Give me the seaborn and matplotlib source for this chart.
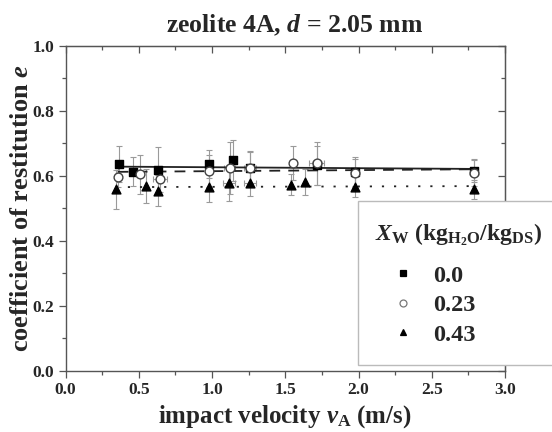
import numpy as np
import pandas as pd
import matplotlib
matplotlib.use("Agg")
import matplotlib.pyplot as plt
from matplotlib.patches import Rectangle
import seaborn as sns

# Coefficient of restitution vs impact velocity, three moisture contents
x_dry = [0.365, 0.463, 0.633, 0.98, 1.145, 1.26, 1.715, 1.976, 2.79]
e_dry = [0.635, 0.612, 0.617, 0.636, 0.647, 0.624, 0.632, 0.612, 0.615]
err_dry = [0.055, 0.045, 0.070, 0.043, 0.063, 0.053, 0.060, 0.045, 0.035]

x_mid = [0.356, 0.51, 0.645, 0.98, 1.12, 1.26, 1.555, 1.715, 1.976, 2.79]
e_mid = [0.595, 0.605, 0.589, 0.615, 0.623, 0.624, 0.640, 0.638, 0.607, 0.607]
err_mid = [0.030, 0.060, 0.040, 0.050, 0.080, 0.050, 0.052, 0.067, 0.043, 0.040]
xerr_mid = [0.0, 0.0, 0.05, 0.0, 0.04, 0.04, 0.0, 0.05, 0.0, 0.0]

x_wet = [0.343, 0.55, 0.633, 0.98, 1.118, 1.26, 1.537, 1.635, 1.976, 2.79]
e_wet = [0.558, 0.568, 0.554, 0.564, 0.577, 0.578, 0.573, 0.580, 0.566, 0.558]
err_wet = [0.060, 0.052, 0.047, 0.044, 0.055, 0.040, 0.033, 0.040, 0.030, 0.030]
xerr_wet = [0.0, 0.0, 0.0, 0.0, 0.04, 0.04, 0.0, 0.0, 0.0, 0.0]

# Linear fits e = a + b * v
fit_intercept = [0.629, 0.6108, 0.5646]
fit_slope = [-0.00287, 0.00328, 0.00123]

labels = ["0.0", "0.23", "0.43"]

sns.set_style("ticks")
plt.rcParams["font.family"] = ["Liberation Serif", "DejaVu Serif"]
plt.rcParams["font.weight"] = "bold"
plt.rcParams["mathtext.fontset"] = "custom"
plt.rcParams["mathtext.rm"] = "Liberation Serif:bold"
plt.rcParams["mathtext.it"] = "Liberation Serif:bold:italic"
plt.rcParams["mathtext.bf"] = "Liberation Serif:bold"

fig = plt.figure(figsize=(5.52, 4.32), dpi=100)
ax = fig.add_axes([0.1187, 0.142, 0.7962, 0.752])

series = [
    (x_dry, e_dry, err_dry, [0.0] * len(x_dry), "s", "black", "black", "-"),
    (x_mid, e_mid, err_mid, xerr_mid, "o", "white", "#444444", (0, (6, 4.5))),
    (x_wet, e_wet, err_wet, xerr_wet, "^", "black", "black", (0, (1.2, 5.5))),
]

# error bars underneath
for xs, es, ye, xe, m, fc, ec, ls in series:
    ax.errorbar(xs, es, yerr=ye, xerr=xe, fmt="none", ecolor="#9a9a9a",
                elinewidth=0.8, capsize=2.5, capthick=0.8, zorder=1)

# fit lines
for (xs, es, ye, xe, m, fc, ec, ls), a, b in zip(series, fit_intercept, fit_slope):
    xv = np.array([min(xs), max(xs)])
    fit_df = pd.DataFrame({"v": xv, "e": a + b * xv})
    sns.lineplot(data=fit_df, x="v", y="e", ax=ax, color="#222222",
                 linewidth=1.3, linestyle=ls, zorder=2, legend=False)

# markers
handles = []
for (xs, es, ye, xe, m, fc, ec, ls), lab in zip(series, labels):
    df = pd.DataFrame({"v": xs, "e": es})
    sns.scatterplot(data=df, x="v", y="e", ax=ax, marker=m, s=40,
                    color=fc, edgecolor=ec, linewidth=1.0, zorder=3)
    h, = ax.plot([], [], linestyle="none", marker=m, markersize=5,
                 markerfacecolor=fc, markeredgecolor="#777777" if fc == "white" else ec,
                 markeredgewidth=0.9)
    handles.append(h)

ax.set_xlim(0.0, 3.0)
ax.set_ylim(0.0, 1.0)
ax.set_xticks(np.arange(0, 3.01, 0.5))
ax.set_xticks(np.arange(0, 3.01, 0.25), minor=True)
ax.set_yticks(np.arange(0, 1.01, 0.2))
ax.set_yticks(np.arange(0, 1.01, 0.1), minor=True)
ax.xaxis.set_major_formatter(matplotlib.ticker.FormatStrFormatter("%.1f"))
ax.yaxis.set_major_formatter(matplotlib.ticker.FormatStrFormatter("%.1f"))

for sp in ax.spines.values():
    sp.set_visible(True)
    sp.set_color("#555555")
    sp.set_linewidth(1.0)

ax.tick_params(axis="both", which="both", direction="out", color="#555555",
               labelsize=12.5, width=0.9, pad=3)
ax.tick_params(which="major", length=5)
ax.tick_params(which="minor", length=3)

# inward ticks on top and right
sec_x = ax.secondary_xaxis("top")
sec_x.set_xticks(np.arange(0, 3.01, 0.5))
sec_x.set_xticks(np.arange(0, 3.01, 0.25), minor=True)
sec_x.tick_params(which="both", direction="in", labeltop=False, color="#555555", width=0.9)
sec_x.tick_params(which="major", length=5)
sec_x.tick_params(which="minor", length=3)
sec_x.spines["top"].set_color("#555555")
sec_y = ax.secondary_yaxis("right")
sec_y.set_yticks(np.arange(0, 1.01, 0.2))
sec_y.set_yticks(np.arange(0, 1.01, 0.1), minor=True)
sec_y.tick_params(which="both", direction="in", labelright=False, color="#555555", width=0.9)
sec_y.tick_params(which="major", length=5)
sec_y.tick_params(which="minor", length=3)
sec_y.spines["right"].set_color("#555555")

for t in ax.get_xticklabels() + ax.get_yticklabels():
    t.set_fontweight("bold")

ax.set_xlabel(r"impact velocity $v_\mathrm{A}$ (m/s)", fontsize=18, fontweight="bold", labelpad=4)
ax.set_ylabel(r"coefficient of restitution $e$", fontsize=19, fontweight="bold")
ax.yaxis.set_label_coords(-0.074, 0.5)
ax.set_title(r"zeolite 4A, $d$ = 2.05 mm", fontsize=18.5, fontweight="bold", pad=10, x=0.522)

# legend panel in the lower right, running off the figure edge
fig.patches.append(Rectangle((0.6486, 0.155), 0.5, 0.380, transform=fig.transFigure,
                             facecolor="white", edgecolor="#bbbbbb", linewidth=1.0,
                             zorder=5))
fig.text(0.679, 0.456, r"$X_\mathrm{W}$ (kg$_\mathrm{H_2O}$/kg$_\mathrm{DS}$)",
         fontsize=17, fontweight="bold", va="center", ha="left", zorder=6)
leg = fig.legend(handles, labels, loc="upper left", bbox_to_anchor=(0.701, 0.3866),
                 frameon=False, prop={"family": "Liberation Serif", "weight": "bold", "size": 17.5},
                 handletextpad=0.6, labelspacing=0.3, borderpad=0.0,
                 handlelength=1.3, borderaxespad=0.0)
leg.set_zorder(6)

fig.savefig("out.png", dpi=100)
